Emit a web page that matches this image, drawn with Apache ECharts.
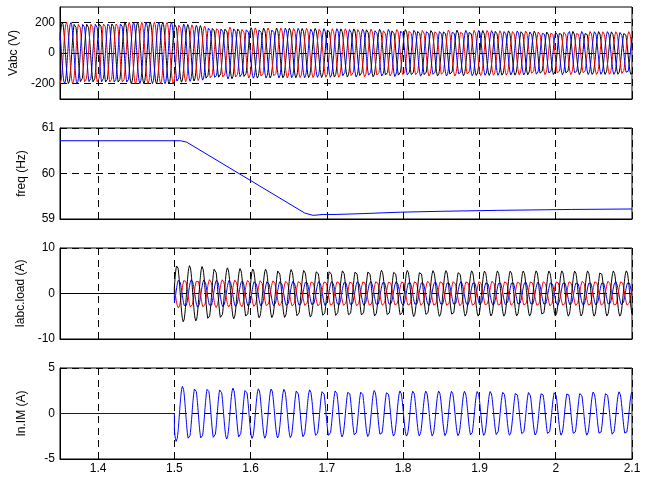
<!DOCTYPE html>
<html>
<head>
<meta charset="utf-8">
<script src="https://cdn.jsdelivr.net/npm/echarts@6/dist/echarts.min.js"></script>
<style>
  html, body { margin: 0; background: #fff; }
  #main { width: 650px; height: 477px; }
</style>
</head>
<body>
<div id="main"></div>
<script>
// Zaman ekseni (s)
const timeMin = 1.35;
const timeMax = 2.1;
const timeTicks = [1.4, 1.5, 1.6, 1.7, 1.8, 1.9, 2, 2.1];

// freq (Hz) - resimden okunan kırılma noktaları
const freqTime  = [1.35, 1.508, 1.516, 1.671, 1.682, 1.695, 1.712, 1.75, 1.796, 1.852, 1.924, 2.021, 2.1];
const freqValue = [60.72, 60.72, 60.69, 59.13, 59.08, 59.10, 59.10, 59.12, 59.15, 59.17, 59.19, 59.21, 59.22];

// Vabc (V) - tepe genlik zarfı
const vabcTime = [1.35, 1.5, 1.51, 1.55, 1.6, 1.7, 1.8, 1.9, 2.0, 2.1];
const vabcAmp  = [200, 200, 190, 172, 165, 160, 155, 148, 143, 140];
const vabcPeak = { a: 1.3530, b: 1.3586, c: 1.3642 };   // ilk tepe anları

// Iabc.load (A) - yük akımı, 1.5 s'de devreye giriyor
const loadOn = 1.5;
const loadTime  = [1.5, 1.505, 1.55, 1.6, 1.7, 1.9, 2.1];
const loadBlack = [6.3, 6.3, 5.8, 5.4, 5.2, 5.0, 5.0];
const loadBlue  = [3.1, 3.1, 3.0, 2.8, 2.7, 2.6, 2.6];
const loadRed   = [3.2, 3.2, 3.1, 2.9, 2.8, 2.8, 2.8];
const loadPeak  = { black: 1.5035, blue: 1.5060, red: 1.5135 };

// In.IM (A)
const imTime = [1.5, 1.52, 1.6, 1.7, 1.8, 1.9, 2.0, 2.1];
const imAmp  = [3.1, 2.9, 2.75, 2.6, 2.5, 2.45, 2.4, 2.4];
const imPeak = 1.5107;

// Yardımcılar
function lerp(xs, ys, t) {
    if (t <= xs[0]) return ys[0];
    for (let i = 1; i < xs.length; i++) {
        if (t <= xs[i]) {
            const k = (t - xs[i - 1]) / (xs[i] - xs[i - 1]);
            return ys[i - 1] + k * (ys[i] - ys[i - 1]);
        }
    }
    return ys[ys.length - 1];
}

// Faz: frekans eğrisinden periyot sayısı
const dt = 0.00025;
const times = [], cycles = [];
let c = 0;
for (let i = 0; timeMin + i * dt <= timeMax + 1e-9; i++) {
    const t = timeMin + i * dt;
    times.push(t);
    cycles.push(c);
    c += lerp(freqTime, freqValue, t) * dt;
}
function cyclesAt(t) {
    const i = Math.min(times.length - 1, Math.max(0, Math.round((t - timeMin) / dt)));
    return cycles[i];
}

function wave(envT, envA, tPeak, tOn) {
    const cp = cyclesAt(tPeak);
    const out = [];
    if (tOn) out.push([timeMin, 0], [tOn, 0]);
    times.forEach((t, i) => {
        if (tOn && t < tOn) return;
        const v = lerp(envT, envA, t) * Math.cos(2 * Math.PI * (cycles[i] - cp));
        out.push([+t.toFixed(5), +v.toFixed(3)]);
    });
    return out;
}

const freqData = freqTime.map((t, i) => [t, freqValue[i]]);

// Stil
const FONT = 'Liberation Sans';
const dashGrid = { show: true, lineStyle: { color: '#000', width: 1, type: [7, 5] } };

const grids = [
    { top: 7,   height: 92 },
    { top: 128, height: 91 },
    { top: 248, height: 91 },
    { top: 368, height: 91 }
].map(g => Object.assign({ left: 60, right: 18, show: true, borderColor: '#000', borderWidth: 1, containLabel: false }, g));

function xAxis(idx, labels) {
    return {
        type: 'value', gridIndex: idx, min: timeMin, max: timeMax,
        axisLine: { show: true, onZero: false, lineStyle: { color: '#000' } },
        axisTick: { show: true, inside: true, length: 4, customValues: timeTicks, lineStyle: { color: '#000' } },
        axisLabel: { show: labels, customValues: timeTicks, color: '#000', fontFamily: FONT, fontSize: 12, margin: 4 },
        splitLine: dashGrid
    };
}
function yAxis(idx, name, min, max, ticks) {
    return {
        type: 'value', gridIndex: idx, min: min, max: max,
        name: name, nameLocation: 'middle', nameGap: 32, nameRotate: 90,
        nameTextStyle: { color: '#000', fontFamily: FONT, fontSize: 12 },
        axisLine: { show: true, onZero: false, lineStyle: { color: '#000' } },
        axisTick: { show: true, inside: true, length: 4, customValues: ticks, lineStyle: { color: '#000' } },
        axisLabel: { customValues: ticks, color: '#000', fontFamily: FONT, fontSize: 12, margin: 5 },
        splitLine: dashGrid
    };
}

function line(idx, color, data) {
    return {
        type: 'line', xAxisIndex: idx, yAxisIndex: idx, data: data,
        showSymbol: false, symbol: 'none', silent: true,
        lineStyle: { color: color, width: 1 }
    };
}

const chart = echarts.init(document.getElementById('main'));
chart.setOption({
    animation: false,
    backgroundColor: '#fff',
    grid: grids,
    xAxis: [xAxis(0, false), xAxis(1, false), xAxis(2, false), xAxis(3, true)],
    yAxis: [
        yAxis(0, 'Vabc (V)', -300, 300, [-200, 0, 200]),
        yAxis(1, 'freq (Hz)', 59, 61, [59, 60, 61]),
        yAxis(2, 'Iabc.load (A)', -10, 10, [-10, 0, 10]),
        yAxis(3, 'In.IM (A)', -5, 5, [-5, 0, 5])
    ],
    series: [
        line(0, '#000000', wave(vabcTime, vabcAmp, vabcPeak.a)),
        line(0, '#ff0000', wave(vabcTime, vabcAmp, vabcPeak.b)),
        line(0, '#0000ff', wave(vabcTime, vabcAmp, vabcPeak.c)),
        line(1, '#0000ff', freqData),
        line(2, '#0000ff', wave(loadTime, loadBlue, loadPeak.blue, loadOn)),
        line(2, '#ff0000', wave(loadTime, loadRed, loadPeak.red, loadOn)),
        line(2, '#000000', wave(loadTime, loadBlack, loadPeak.black, loadOn)),
        line(3, '#0000ff', wave(imTime, imAmp, imPeak, loadOn))
    ]
});
</script>
</body>
</html>
